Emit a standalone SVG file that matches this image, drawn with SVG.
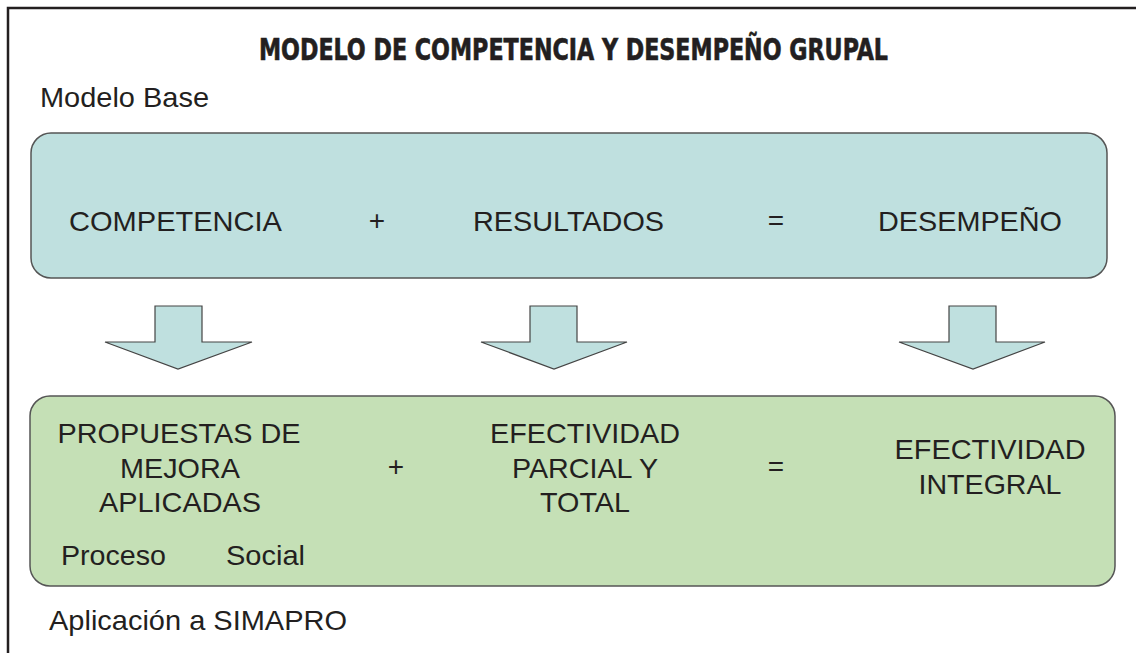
<svg xmlns="http://www.w3.org/2000/svg" width="1136" height="653" viewBox="0 0 1136 653">
<style>
.t{font-family:"Liberation Sans",Arial,sans-serif;font-size:28px;fill:#231f20}
.title{font-family:"Liberation Sans Narrow","DejaVu Sans Condensed","Liberation Sans",sans-serif;font-weight:bold;font-size:30px;fill:#231f20;stroke:#231f20;stroke-width:0.6}
.top{fill:#bfe0df;stroke:#555;stroke-width:1.5}
.bot{fill:#c5e0b6;stroke:#555;stroke-width:1.5}
.arrow{fill:#bfe0df;stroke:#444;stroke-width:1.2;stroke-linejoin:miter}
</style>
<rect width="1136" height="653" fill="#fff"/>
<g id="frame">
<path d="M8 653 V8 H1136" fill="none" stroke="#231f20" stroke-width="2.5"/>
</g>
<text id="title" class="title" x="259" y="60" textLength="629" lengthAdjust="spacingAndGlyphs">MODELO DE COMPETENCIA Y DESEMPEÑO GRUPAL</text>
<text id="lbl-base" class="t" x="40" y="107" textLength="169" lengthAdjust="spacingAndGlyphs">Modelo Base</text>
<g id="modelo-base">
<rect class="top" x="31" y="133" width="1076" height="145" rx="20" ry="20"/>
<text class="t" x="69" y="231" textLength="213" lengthAdjust="spacingAndGlyphs">COMPETENCIA</text>
<text class="t" x="377" y="230" text-anchor="middle">+</text>
<text class="t" x="473" y="231" textLength="191" lengthAdjust="spacingAndGlyphs">RESULTADOS</text>
<text class="t" x="776" y="230" text-anchor="middle">=</text>
<text class="t" x="878" y="231" textLength="184" lengthAdjust="spacingAndGlyphs">DESEMPEÑO</text>
</g>
<g id="connectors">
<polygon class="arrow" points="155,306 202,306 202,342 252,342 178,369 105,342 155,342"/>
<polygon class="arrow" points="530,306 577,306 577,342 627,342 554,369 481,342 530,342"/>
<polygon class="arrow" points="949,306 996,306 996,342 1045,342 973,369 899,342 949,342"/>
</g>
<g id="simapro">
<rect class="bot" x="30" y="396" width="1085" height="190" rx="20" ry="20"/>
<text class="t" x="179" y="443" text-anchor="middle" textLength="243" lengthAdjust="spacingAndGlyphs">PROPUESTAS DE</text>
<text class="t" x="180" y="478" text-anchor="middle" textLength="120" lengthAdjust="spacingAndGlyphs">MEJORA</text>
<text class="t" x="180" y="512" text-anchor="middle" textLength="162" lengthAdjust="spacingAndGlyphs">APLICADAS</text>
<text class="t" x="61" y="565" textLength="105" lengthAdjust="spacingAndGlyphs">Proceso</text>
<text class="t" x="226" y="565" textLength="79" lengthAdjust="spacingAndGlyphs">Social</text>
<text class="t" x="396" y="476" text-anchor="middle">+</text>
<text class="t" x="585" y="443" text-anchor="middle" textLength="190" lengthAdjust="spacingAndGlyphs">EFECTIVIDAD</text>
<text class="t" x="585" y="478" text-anchor="middle" textLength="146" lengthAdjust="spacingAndGlyphs">PARCIAL Y</text>
<text class="t" x="585" y="512" text-anchor="middle" textLength="90" lengthAdjust="spacingAndGlyphs">TOTAL</text>
<text class="t" x="776" y="476" text-anchor="middle">=</text>
<text class="t" x="990" y="459" text-anchor="middle" textLength="191" lengthAdjust="spacingAndGlyphs">EFECTIVIDAD</text>
<text class="t" x="990" y="494" text-anchor="middle" textLength="143" lengthAdjust="spacingAndGlyphs">INTEGRAL</text>
</g>
<text id="lbl-simapro" class="t" x="49" y="630" textLength="298" lengthAdjust="spacingAndGlyphs">Aplicación a SIMAPRO</text>
</svg>
